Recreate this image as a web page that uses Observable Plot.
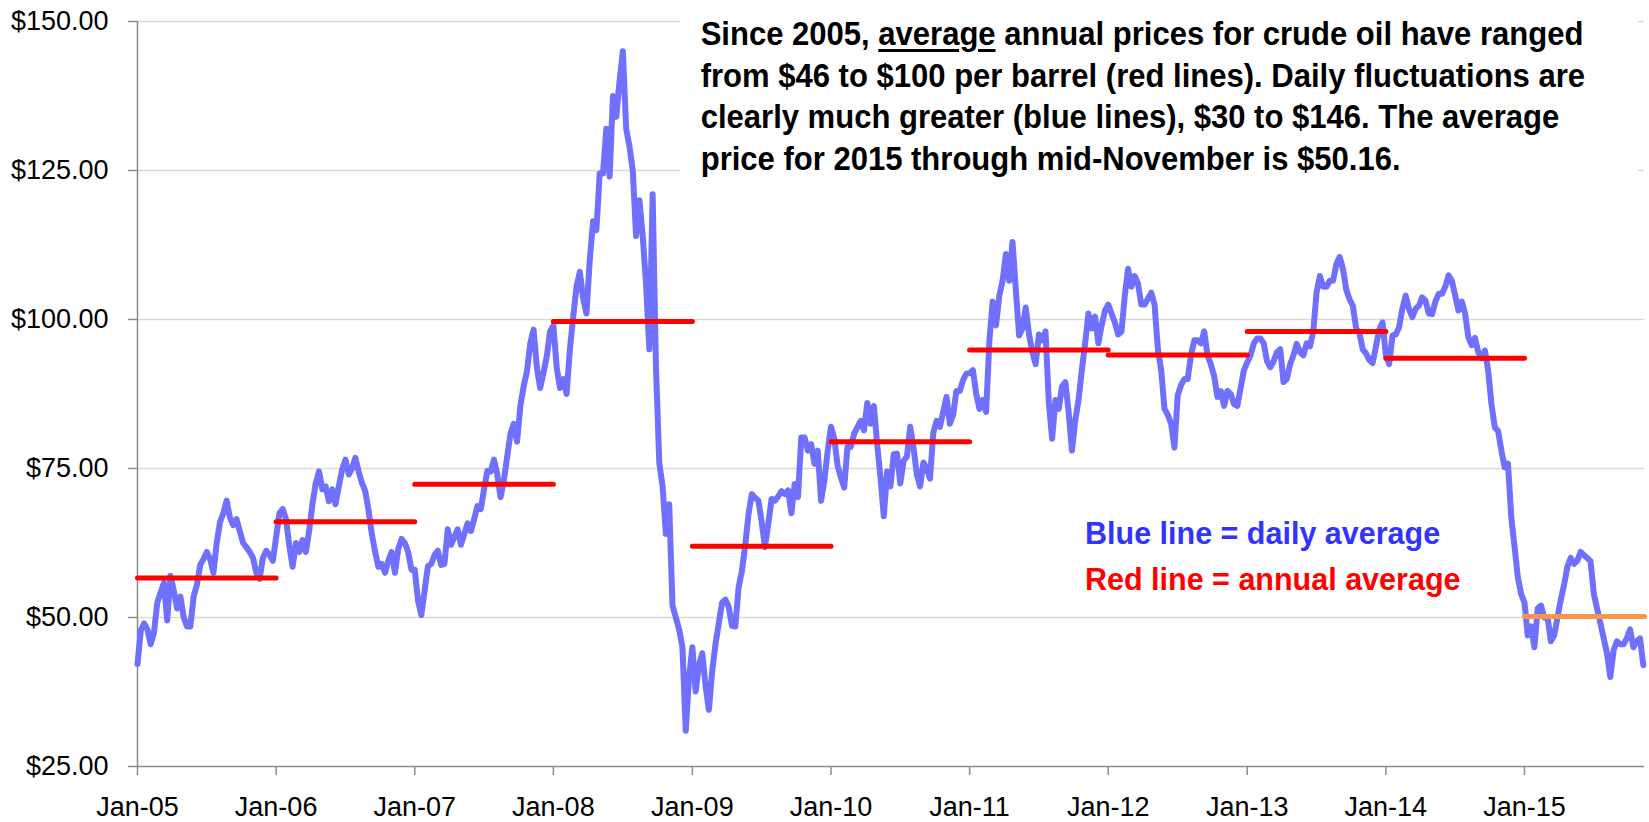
<!DOCTYPE html>
<html>
<head>
<meta charset="utf-8">
<script src="https://cdn.jsdelivr.net/npm/d3@7"></script>
<script src="https://cdn.jsdelivr.net/npm/@observablehq/plot@0.6"></script>
<style>
  html, body { margin: 0; padding: 0; background: #fff; }
  #wrap { position: relative; width: 1649px; height: 822px; font-family: "Liberation Sans", Arial, sans-serif; }
  #title { position: absolute; left: 680px; top: 13px; width: 1019px; height: 174px; background: #fff;
           padding-left: 22px; box-sizing: border-box; font-weight: bold; font-size: 33px;
           line-height: 41.7px; color: #000; white-space: nowrap;
           transform: scale(0.94, 1); transform-origin: left top; }
  #title u { text-decoration-thickness: 3px; text-underline-offset: 4px; }
  #legend { position: absolute; left: 1085px; top: 510px; font-weight: bold; font-size: 30.5px;
            line-height: 46px; white-space: nowrap; }
</style>
</head>
<body>
<div id="wrap"></div>
<script>
// ---- Data ----
const years = [2005, 2006, 2007, 2008, 2009, 2010, 2011, 2012, 2013, 2014, 2015];

// Daily crude oil price (WTI, $/barrel), sampled ~42 times per year
const y2005 = [42.2, 47.8, 49.0, 48.0, 45.5, 47.5, 52.5, 54.2, 55.8, 49.5, 57.0, 54.5, 51.5, 53.5, 50.0, 48.5, 48.5, 53.5, 55.5, 58.8, 59.8, 61.0, 59.8, 57.5, 62.5, 66.0, 67.5, 69.6, 66.8, 65.5, 66.5, 64.5, 62.5, 61.8, 61.0, 60.0, 57.5, 56.5, 60.0, 61.2, 60.5, 59.5];
const y2006 = [63.5, 67.5, 68.2, 66.5, 62.0, 58.5, 62.5, 61.0, 63.0, 61.0, 64.5, 69.0, 72.5, 74.5, 71.5, 72.0, 69.5, 71.5, 69.0, 72.0, 74.8, 76.5, 74.0, 75.0, 76.8, 74.5, 72.6, 71.2, 68.0, 64.0, 61.0, 58.5, 59.0, 57.5, 59.5, 61.0, 57.5, 61.5, 63.2, 62.5, 61.0, 58.0];
const y2007 = [58.0, 52.8, 50.4, 54.6, 58.6, 59.0, 60.5, 61.2, 58.8, 59.0, 64.8, 62.2, 63.5, 64.8, 62.2, 64.0, 65.8, 64.5, 66.5, 68.7, 68.2, 71.5, 74.6, 74.5, 76.5, 74.0, 70.2, 73.0, 77.0, 80.8, 82.5, 79.5, 85.5, 88.8, 91.3, 96.0, 98.3, 92.0, 88.5, 91.0, 93.8, 98.0];
const y2008 = [99.0, 92.0, 88.5, 90.0, 87.5, 95.0, 100.5, 105.5, 108.0, 103.5, 101.0, 110.0, 116.5, 115.0, 124.5, 124.5, 132.0, 124.0, 137.5, 134.0, 140.0, 145.0, 132.0, 129.0, 125.0, 114.0, 120.0, 114.0, 106.0, 95.0, 121.0, 92.0, 76.0, 72.0, 64.0, 69.0, 52.0, 50.0, 48.0, 45.0, 31.0, 40.0];
const y2009 = [45.0, 37.6, 42.0, 44.0, 38.5, 34.5, 41.0, 45.5, 49.0, 52.5, 53.0, 51.8, 48.6, 48.5, 55.0, 57.8, 62.0, 67.3, 70.7, 70.1, 69.6, 66.0, 61.8, 65.7, 69.9, 69.6, 70.3, 71.2, 70.7, 71.3, 67.5, 72.4, 70.2, 80.2, 80.2, 78.0, 79.1, 75.8, 78.0, 69.6, 73.0, 78.0];
const y2010 = [82.0, 80.0, 75.5, 73.5, 71.8, 78.6, 78.6, 80.8, 81.9, 83.0, 81.4, 86.0, 82.5, 85.5, 79.0, 73.5, 67.0, 74.5, 72.0, 77.4, 77.5, 72.5, 76.3, 77.0, 82.0, 78.5, 74.0, 72.0, 76.0, 75.0, 73.3, 81.0, 83.0, 82.0, 84.5, 87.0, 82.5, 84.0, 88.0, 88.0, 89.8, 90.9];
const y2011 = [91.0, 91.5, 87.5, 85.0, 86.5, 84.5, 96.5, 103.0, 99.0, 104.0, 106.5, 111.0, 106.5, 113.0, 105.0, 97.3, 98.5, 102.0, 97.5, 94.5, 92.5, 97.5, 96.5, 98.0, 86.0, 80.0, 86.5, 85.0, 88.8, 89.5, 84.5, 78.0, 83.0, 86.5, 91.5, 96.0, 101.0, 98.5, 100.5, 96.0, 99.0, 101.5];
const y2012 = [102.5, 101.0, 99.5, 97.5, 98.0, 104.0, 108.5, 105.5, 107.3, 106.0, 102.5, 102.5, 103.5, 104.5, 102.5, 95.0, 91.5, 85.0, 84.0, 82.5, 78.5, 87.3, 89.0, 90.0, 90.0, 94.0, 96.5, 96.5, 96.0, 98.0, 94.0, 92.5, 90.5, 87.0, 88.0, 85.5, 88.0, 87.5, 85.8, 85.5, 88.5, 91.5];
const y2013 = [92.8, 94.0, 96.0, 96.8, 96.8, 96.0, 93.0, 92.0, 93.0, 94.5, 95.0, 89.5, 90.0, 92.5, 94.0, 95.9, 94.5, 94.0, 96.0, 95.5, 98.0, 104.5, 107.3, 105.5, 105.5, 106.5, 106.5, 109.3, 110.5, 108.5, 105.0, 103.4, 102.3, 98.5, 97.7, 95.0, 94.3, 93.2, 92.7, 95.5, 98.3, 99.5];
const y2014 = [94.0, 92.5, 97.3, 97.5, 98.7, 101.8, 104.0, 101.8, 100.4, 101.8, 102.3, 103.7, 103.2, 101.0, 100.9, 103.0, 104.3, 104.3, 105.5, 107.4, 106.5, 104.0, 101.5, 103.0, 101.0, 97.0, 95.7, 96.9, 94.5, 93.5, 94.8, 91.4, 85.8, 81.9, 81.3, 78.0, 75.2, 75.8, 66.8, 61.8, 56.7, 53.9];
const y2015 = [52.5, 47.0, 48.5, 45.0, 51.5, 52.0, 50.0, 50.0, 46.0, 47.0, 50.0, 53.0, 55.5, 58.5, 60.0, 59.0, 59.5, 61.0, 60.5, 60.0, 59.5, 54.0, 51.5, 49.0, 46.5, 44.0, 40.0, 44.5, 46.0, 45.5, 45.5, 46.5, 48.0, 45.0, 46.0, 46.5, 42.0];
const dailyByYear = [y2005, y2006, y2007, y2008, y2009, y2010, y2011, y2012, y2013, y2014, y2015];
const samplesPerYear = 42;

// Annual average price ($/barrel); 2015 is through mid-November
const annualAvg = [56.64, 66.05, 72.34, 99.67, 61.95, 79.48, 94.88, 94.05, 97.98, 93.5, 50.16];

// Axis ticks
const yTicks = [25, 50, 75, 100, 125, 150];
const gridValues = [50, 75, 100, 125, 150];
const startDate = new Date(Date.UTC(2005, 0, 1));
const endDate = new Date(Date.UTC(2015, 10, 13));
const xTicks = years.map(y => new Date(Date.UTC(y, 0, 1)));

// ---- Build tables ----
const daily = [];
years.forEach((yr, k) => {
  const s = Date.UTC(yr, 0, 1), len = Date.UTC(yr + 1, 0, 1) - s;
  dailyByYear[k].forEach((v, i) => daily.push({date: new Date(s + i * len / samplesPerYear), price: v}));
});
const annual = years.map((yr, k) => ({
  x1: new Date(Date.UTC(yr, 0, 1)),
  x2: yr === 2015 ? endDate : new Date(Date.UTC(yr + 1, 0, 1)),
  avg: annualAvg[k],
  partial: yr === 2015
}));

const axisGray = "#8c8c8c";
const chart = Plot.plot({
  width: 1649, height: 822,
  marginLeft: 137, marginRight: 5, marginTop: 21, marginBottom: 56,
  x: {type: "utc", domain: [startDate, endDate], label: null},
  y: {domain: [25, 150], label: null},
  style: {fontFamily: '"Liberation Sans", Arial, sans-serif', background: "#fff", overflow: "visible"},
  marks: [
    Plot.ruleY(gridValues, {stroke: "#d9d9d9", strokeWidth: 1.5}),
    Plot.axisY({ticks: yTicks, tickFormat: d => "$" + d.toFixed(2), tickSize: 9, tickPadding: 20,
                fontSize: 27, stroke: axisGray, strokeWidth: 1.5, color: "#000", label: null}),
    Plot.axisX({ticks: xTicks, tickFormat: d3.utcFormat("%b-%y"), tickSize: 9, tickPadding: 21,
                fontSize: 27, stroke: axisGray, strokeWidth: 1.5, color: "#000", label: null}),
    Plot.ruleX([startDate], {stroke: axisGray, strokeWidth: 1.5}),
    Plot.ruleY([25], {stroke: axisGray, strokeWidth: 1.5}),
    Plot.line(daily, {x: "date", y: "price", stroke: "#7070ff", strokeWidth: 6, strokeLinejoin: "round", strokeLinecap: "round"}),
    Plot.link(annual.filter(d => !d.partial), {x1: "x1", x2: "x2", y1: "avg", y2: "avg", stroke: "#ff0000", strokeWidth: 5, strokeLinecap: "round"}),
    Plot.link(annual.filter(d => d.partial), {x1: "x1", x2: "x2", y1: "avg", y2: "avg", stroke: "#f79646", strokeWidth: 5, strokeLinecap: "round"})
  ]
});

const wrap = document.getElementById("wrap");
wrap.appendChild(chart);

const title = document.createElement("div");
title.id = "title";
title.innerHTML = 'Since 2005, <u>average</u> annual prices for crude oil have ranged<br>' +
  'from $46 to $100 per barrel (red lines). Daily fluctuations are<br>' +
  'clearly much greater (blue lines), $30 to $146. The average<br>' +
  'price for 2015 through mid-November is $50.16.';
wrap.appendChild(title);

const legend = document.createElement("div");
legend.id = "legend";
legend.innerHTML = '<div style="color:#3333ff">Blue line = daily average</div>' +
  '<div style="color:#ff0000">Red line = annual average</div>';
wrap.appendChild(legend);
</script>
</body>
</html>
